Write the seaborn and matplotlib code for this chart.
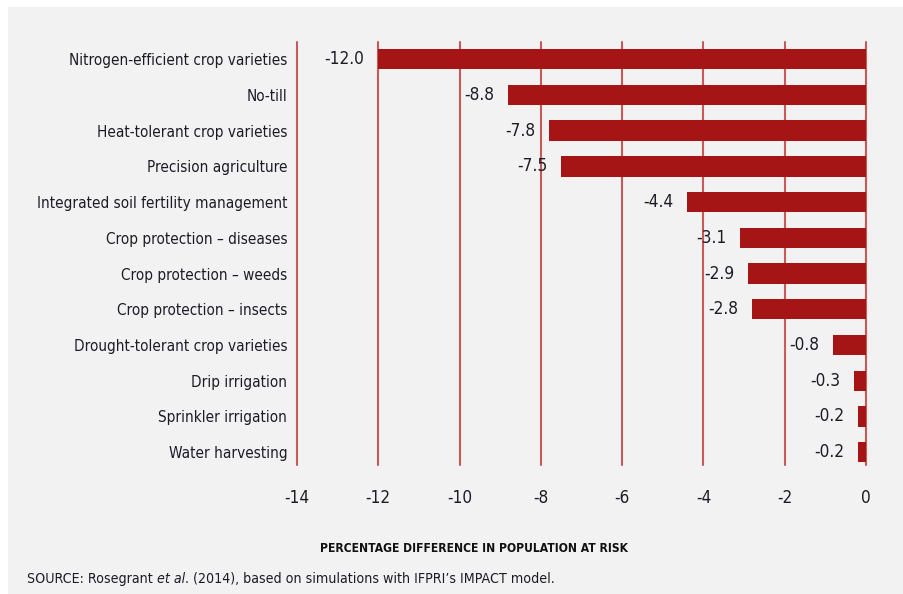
import matplotlib
matplotlib.use("Agg")
import matplotlib.pyplot as plt
from matplotlib import font_manager as fm
from matplotlib.patches import Rectangle
import seaborn as sns
import pandas as pd

# Adaptation technologies and their effect on the population at risk of hunger
technologies = [
    "Nitrogen-efficient crop varieties",
    "No-till",
    "Heat-tolerant crop varieties",
    "Precision agriculture",
    "Integrated soil fertility management",
    "Crop protection \u2013 diseases",
    "Crop protection \u2013 weeds",
    "Crop protection \u2013 insects",
    "Drought-tolerant crop varieties",
    "Drip irrigation",
    "Sprinkler irrigation",
    "Water harvesting",
]
pct_change = [-12.0, -8.8, -7.8, -7.5, -4.4, -3.1, -2.9, -2.8, -0.8, -0.3, -0.2, -0.2]
x_ticks = [-14, -12, -10, -8, -6, -4, -2, 0]

df = pd.DataFrame({"technology": technologies, "pct": pct_change})


def pick_font():
    """Prefer a narrow sans if one is installed, else a regular sans."""
    for fam, stretch in [("Liberation Sans Narrow", "normal"),
                         ("DejaVu Sans Condensed", "normal"),
                         ("DejaVu Sans", "condensed"),
                         ("Roboto Condensed", "normal")]:
        try:
            path = fm.findfont(fm.FontProperties(family=fam, stretch=stretch),
                               fallback_to_default=False)
        except Exception:
            continue
        low = path.lower()
        if "narrow" in low or "condensed" in low:
            return fam, stretch
    return "Liberation Sans", "normal"


sns.set_theme(style="white")
FAM, STRETCH = pick_font()
plt.rcParams["font.family"] = [FAM, "DejaVu Sans"]
plt.rcParams["font.stretch"] = STRETCH

BAR = "#a51515"
GRID = "#c55a57"
TEXT = "#1c1c28"
PANEL = "#f2f2f2"

W, H = 904, 594
fig = plt.figure(figsize=(W / 100, H / 100), dpi=100, facecolor="white")
renderer = fig.canvas.get_renderer()


def fit_size(text, target_px, weight="normal"):
    """Font size (pt) at which `text` is about target_px wide."""
    t = fig.text(0, 0, text, fontsize=10, fontweight=weight)
    w = t.get_window_extent(renderer=renderer).width
    t.remove()
    return 10 * target_px / w


LABEL_FS = fit_size("Integrated soil fertility management", 250)
VALUE_FS = fit_size("-12.0", 40)
TICK_FS = fit_size("-14", 25)
XLAB_FS = fit_size("PERCENTAGE DIFFERENCE IN POPULATION AT RISK", 306, "bold")
SRC_FS = fit_size("SOURCE: Rosegrant et al. (2014), based on simulations with "
                  "IFPRI\u2019s IMPACT model.", 528)

fig.patches.append(Rectangle((8 / W, 0), 1 - 8 / W, 1 - 7 / H,
                             transform=fig.transFigure, facecolor=PANEL,
                             edgecolor="none", zorder=-10))

ax = fig.add_axes([297 / W, 1 - 465 / H, 569 / W, 423 / H])
ax.set_facecolor("none")

sns.barplot(data=df, y="technology", x="pct", orient="h", color=BAR,
            saturation=1, width=0.57, linewidth=0, ax=ax, zorder=3)

ax.set_xlim(-14, 0)
ax.set_ylim(11.36, -0.48)
ax.set_xticks(x_ticks)
ax.set_xticklabels([str(t) for t in x_ticks])
ax.grid(False)
for t in x_ticks:
    ax.axvline(t, color=GRID, lw=1.5, zorder=1, clip_on=False)

for s in ax.spines.values():
    s.set_visible(False)

ax.tick_params(axis="x", length=0, pad=17, labelsize=TICK_FS, labelcolor=TEXT)
ax.tick_params(axis="y", length=0, pad=7, labelsize=LABEL_FS, labelcolor=TEXT)
ax.set_xlabel("")
ax.set_ylabel("")

for container in ax.containers:
    ax.bar_label(container, fmt="%.1f", padding=10, fontsize=VALUE_FS, color=TEXT)

fig.text(474 / W, 1 - 549 / H, "PERCENTAGE DIFFERENCE IN POPULATION AT RISK",
         ha="center", va="center", fontsize=XLAB_FS, fontweight="bold",
         color="#111111")

# Source line with italic "et al."
x0 = 27 / W
y0 = 1 - 579 / H
parts = [("SOURCE: Rosegrant ", "normal"), ("et al", "italic"),
         (". (2014), based on simulations with IFPRI\u2019s IMPACT model.", "normal")]
for txt, style in parts:
    t = fig.text(x0, y0, txt, ha="left", va="center", fontsize=SRC_FS,
                 fontstyle=style, color=TEXT)
    bb = t.get_window_extent(renderer=renderer)
    x0 += bb.width / W

fig.savefig("out.png", dpi=100, facecolor="white")
